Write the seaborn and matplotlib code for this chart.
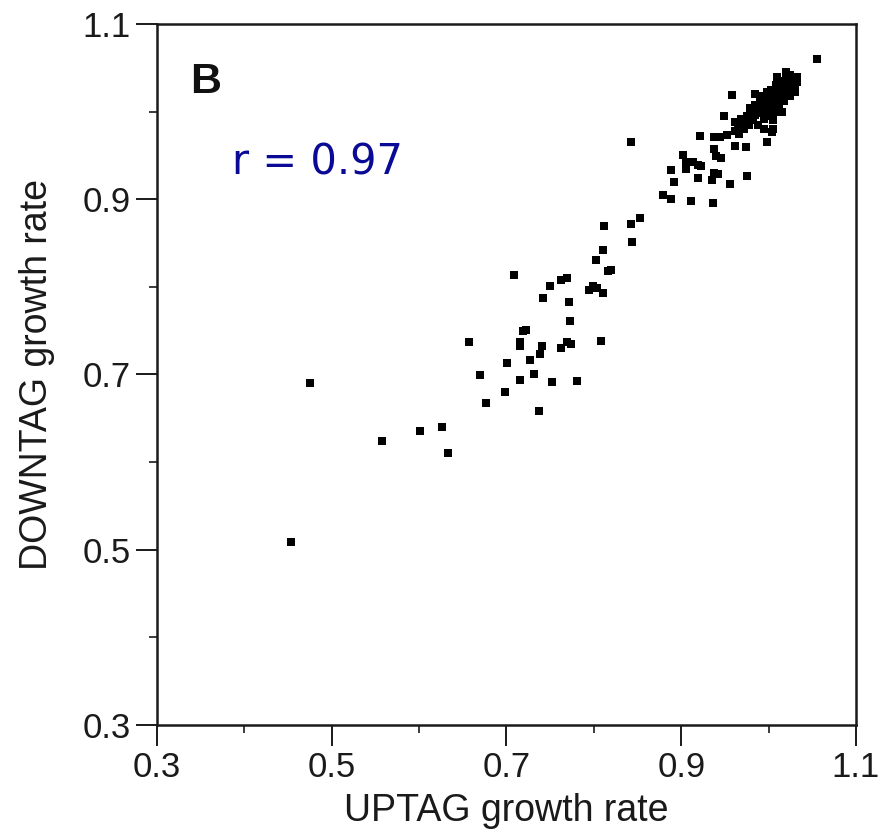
import matplotlib
matplotlib.use("Agg")
import matplotlib.pyplot as plt
from matplotlib.ticker import MultipleLocator
import seaborn as sns
import pandas as pd

# UPTAG (x) and DOWNTAG (y) growth rates
uptag_low = [0.453, 0.475, 0.558, 0.601, 0.626, 0.633, 0.657, 0.670, 0.677, 0.698,
             0.701, 0.709, 0.715, 0.716, 0.716, 0.719, 0.722, 0.727, 0.732, 0.737,
             0.738, 0.741, 0.742, 0.750, 0.752, 0.762, 0.762, 0.769, 0.769, 0.772,
             0.773, 0.774, 0.781, 0.795, 0.799, 0.804, 0.808, 0.811, 0.803, 0.810,
             0.812, 0.816, 0.820, 0.842, 0.844, 0.853, 0.843]
downtag_low = [0.509, 0.690, 0.624, 0.635, 0.640, 0.610, 0.737, 0.699, 0.668, 0.680,
               0.713, 0.813, 0.737, 0.732, 0.694, 0.750, 0.751, 0.716, 0.700, 0.658,
               0.723, 0.732, 0.787, 0.801, 0.691, 0.808, 0.730, 0.737, 0.810, 0.783,
               0.761, 0.735, 0.692, 0.796, 0.801, 0.799, 0.738, 0.793, 0.831, 0.842,
               0.870, 0.818, 0.819, 0.872, 0.851, 0.879, 0.965]

uptag_high = [0.879, 0.888, 0.888, 0.892, 0.902, 0.906, 0.906, 0.911, 0.914, 0.919,
              0.919, 0.921, 0.923, 0.935, 0.936, 0.937, 0.942, 0.937, 0.938, 0.940,
              0.946, 0.944, 0.952, 0.949, 0.956, 0.958, 0.961, 0.965, 0.961, 0.974,
              0.975, 0.998, 1.004, 1.055]
downtag_high = [0.905, 0.900, 0.933, 0.920, 0.950, 0.943, 0.935, 0.898, 0.943, 0.939,
                0.924, 0.972, 0.938, 0.922, 0.896, 0.930, 0.929, 0.971, 0.957, 0.949,
                0.947, 0.971, 0.973, 0.995, 0.917, 1.019, 0.988, 0.979, 0.961, 0.960,
                0.926, 0.965, 0.977, 1.060]

uptag_cluster = [0.966, 0.970, 0.972, 0.975, 0.978, 0.980, 0.982, 0.984, 0.985, 0.987,
                 0.988, 0.990, 0.991, 0.992, 0.993, 0.995, 0.996, 0.997, 0.998, 1.000,
                 1.001, 1.002, 1.003, 1.005, 1.006, 1.007, 1.008, 1.010, 1.011, 1.012,
                 1.013, 1.015, 1.016, 1.018, 1.020, 1.021, 1.022, 1.024, 1.025, 1.027,
                 1.028, 1.030, 1.032, 1.020, 1.010, 0.985, 1.030, 1.015, 1.005, 0.995,
                 1.005, 0.962, 0.968, 0.976, 0.981, 0.989, 0.994, 0.999, 1.004, 1.009,
                 1.014, 1.019, 1.023, 1.026, 1.029, 1.033, 0.979, 0.998, 1.012, 1.017,
                 1.002, 0.992, 1.022, 1.026, 0.983, 1.008]
downtag_cluster = [0.975, 0.988, 0.980, 0.995, 0.985, 1.000, 0.990, 1.008, 0.996, 1.003,
                   0.985, 1.012, 0.998, 1.005, 1.018, 0.992, 1.010, 1.002, 1.022, 1.008,
                   1.015, 0.998, 1.025, 1.012, 1.020, 1.004, 1.030, 1.016, 1.024, 1.008,
                   1.035, 1.020, 1.028, 1.012, 1.038, 1.025, 1.032, 1.018, 1.042, 1.030,
                   1.036, 1.022, 1.040, 1.045, 1.040, 1.020, 1.030, 1.000, 0.990, 0.980,
                   0.980, 0.978, 0.992, 0.990, 0.994, 1.000, 1.008, 1.014, 1.018, 1.022,
                   1.026, 1.030, 1.036, 1.026, 1.040, 1.034, 1.004, 0.995, 1.030, 1.034,
                   1.010, 1.010, 1.028, 1.035, 1.004, 1.000]

major_ticks = [0.3, 0.5, 0.7, 0.9, 1.1]
tick_labels = ["0.3", "0.5", "0.7", "0.9", "1.1"]
panel_label = "B"
corr_text = "r = 0.97"

df = pd.DataFrame({
    "UPTAG": uptag_low + uptag_high + uptag_cluster,
    "DOWNTAG": downtag_low + downtag_high + downtag_cluster,
})

sns.set_theme(style="ticks")
plt.rcParams["font.family"] = ["Liberation Sans", "DejaVu Sans"]

fig = plt.figure(figsize=(8.84, 8.39), dpi=100)
ax = fig.add_axes([0.1776, 0.1359, 0.9683 - 0.1776, 0.9714 - 0.1359])

sns.scatterplot(data=df, x="UPTAG", y="DOWNTAG", ax=ax, marker="s", s=28,
                color="black", linewidth=0, legend=False)

ax.set_xlim(0.3, 1.1)
ax.set_ylim(0.3, 1.1)
ax.set_xticks(major_ticks)
ax.set_xticklabels(tick_labels)
ax.set_yticks(major_ticks)
ax.set_yticklabels(tick_labels)
ax.xaxis.set_minor_locator(MultipleLocator(0.1))
ax.yaxis.set_minor_locator(MultipleLocator(0.1))
ax.tick_params(which="major", direction="out", length=15, width=1.4,
               labelsize=25, pad=4, colors="#1a1a1a")
ax.tick_params(which="minor", direction="out", length=6, width=1.2, colors="#1a1a1a")
for sp in ax.spines.values():
    sp.set_linewidth(1.8)
    sp.set_color("#1a1a1a")

ax.set_xlabel("UPTAG growth rate", fontsize=27, color="#1a1a1a", labelpad=6)
ax.set_ylabel("DOWNTAG growth rate", fontsize=27, color="#1a1a1a", labelpad=20)

ax.text(0.047, 0.917, panel_label, transform=ax.transAxes, fontsize=31,
        fontweight="bold", color="#111111", va="center", ha="left")
ax.text(0.107, 0.803, corr_text, transform=ax.transAxes, fontsize=30,
        color="#0a0a96", va="center", ha="left", family=["DejaVu Sans"])

fig.savefig("out.png", dpi=100)
